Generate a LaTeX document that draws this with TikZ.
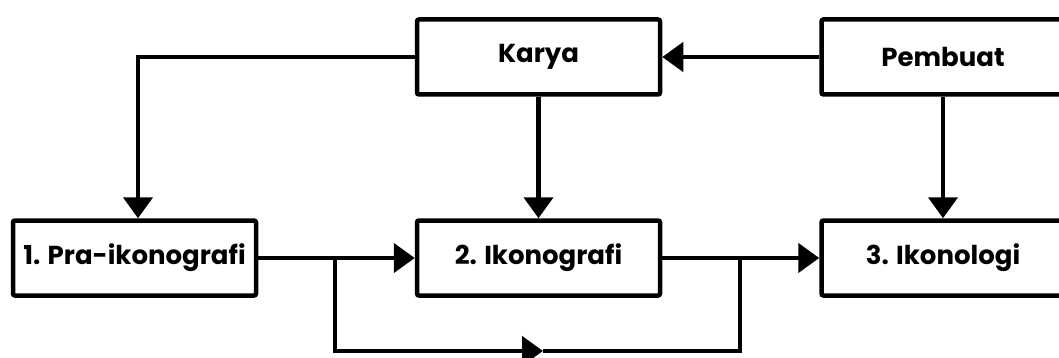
\documentclass[tikz,border=0pt]{standalone}
\usepackage{fontspec}
\setmainfont{Poppins}
\usetikzlibrary{arrows.meta}
\tikzset{
  box/.style={draw, line width=4.5pt, rounded corners=2pt, fill=white,
    minimum width=243pt, minimum height=75pt, inner sep=0pt,
    font=\fontsize{26}{30}\selectfont\bfseries},
  link/.style={line width=4.5pt},
  tip/.style={link, -{Triangle[length=21pt,width=29pt]}}
}
\begin{document}
\begin{tikzpicture}[x=1pt, y=-1pt]
  \clip (0,0) rectangle (1059,358);
  \fill[white] (0,0) rectangle (1059,358);
  % boxes
  \node[box] (karya) at (538.5,57) {Karya};
  \node[box] (pembuat) at (943,57) {Pembuat};
  \node[box] (pra) at (134.5,258) {1. Pra-ikonografi};
  \node[box] (ikg) at (538.5,258) {2. Ikonografi};
  \node[box] (ikl) at (943,258) {3. Ikonologi};
  % junctions of the bypass line
  \coordinate (j1) at (335,258);
  \coordinate (j2) at (740,258);
  \coordinate (mid) at (543,351);
  % connectors
  \draw[tip] (pembuat.west) -- (karya.east);
  \draw[tip] (karya.west) -| ([xshift=3.5pt]pra.north);
  \draw[tip] (karya.south) -- (ikg.north);
  \draw[tip] (pembuat.south) -- (ikl.north);
  \draw[tip] (pra.east) -- (ikg.west);
  \draw[tip] (ikg.east) -- (ikl.west);
  \draw[tip] (j1) |- (mid);
  \draw[link] (mid) -| (j2);
\end{tikzpicture}
\end{document}
